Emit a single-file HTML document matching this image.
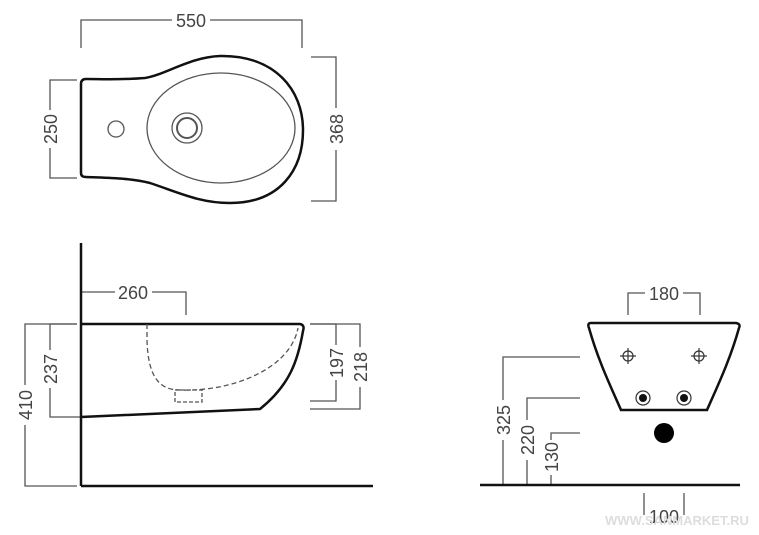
<!DOCTYPE html>
<html><head><meta charset="utf-8"><style>
html,body{margin:0;padding:0;background:#fff;}
svg{display:block;}
text{font-family:"Liberation Sans","DejaVu Sans",sans-serif;fill:#444;font-size:18px;}
</style></head><body>
<svg width="759" height="535" viewBox="0 0 759 535" xmlns="http://www.w3.org/2000/svg">
<g fill="none" stroke="#555" stroke-width="1.3">
<!-- top view dims -->
<polyline points="81,48 81,20 172,20"/><polyline points="210,20 302,20 302,48"/>
<polyline points="77,80 50,80 50,110"/><polyline points="50,148 50,178 77,178"/>
<polyline points="311,57 336,57 336,108"/><polyline points="336,150 336,201 311,201"/>
<!-- side dims -->
<polyline points="81,292 115,292"/><polyline points="152,292 186,292 186,315"/>
<polyline points="77,324 25,324 25,385"/><polyline points="25,425 25,486 77,486"/>
<polyline points="77,324 50,324 50,350"/><polyline points="50,388 50,417 81,417"/>
<polyline points="310,324 336,324 336,345"/><polyline points="336,380 336,401 310,401"/>
<polyline points="310,324 360,324 360,347"/><polyline points="360,387 360,409 310,409"/>
<!-- front dims -->
<polyline points="628,315 628,293 645,293"/><polyline points="683,293 700,293 700,315"/>
<polyline points="580,357 503,357 503,400"/><line x1="503" y1="440" x2="503" y2="485"/>
<polyline points="580,398 527,398 527,420"/><line x1="527" y1="460" x2="527" y2="485"/>
<polyline points="580,433 551,433 551,440"/><line x1="551" y1="475" x2="551" y2="485"/>
<line x1="644" y1="493" x2="644" y2="515"/><line x1="684" y1="493" x2="684" y2="515"/>
<!-- inner ellipse & holes -->
<ellipse cx="221" cy="128" rx="74" ry="55"/>
<circle cx="187" cy="128" r="15"/><circle cx="187" cy="128" r="10" stroke-width="2"/>
<circle cx="116" cy="129" r="8"/>
</g>
<g fill="none" stroke="#111" stroke-width="2.5">
<!-- top outline -->
<path d="M86,79 Q81,79 81,84 L81,173 Q81,177 86,177 C110,178 130,178 150,183 C180,193 200,203 230,203 C280,203 303,170 303,130 C303,90 275,55 220,56 C190,57 165,75 145,78 C120,80 100,79 86,79 Z"/>
<!-- side -->
<line x1="81" y1="243" x2="81" y2="486"/><line x1="81" y1="486" x2="373" y2="486"/>
<path d="M81,324 L300,324 Q305,325 303,331 C298,360 290,385 260,409 L81,417"/>
<!-- front -->
<path d="M591,323 L736,323 Q741,324 739,328 C730,360 718,385 707,410 L621,410 C610,385 598,360 589,328 Q587,323 591,323 Z"/>
<line x1="480" y1="485" x2="740" y2="485"/>
</g>
<path d="M147,324 L147,340 C148,378 160,390 180,390 C230,392 290,370 298,328" fill="none" stroke="#555" stroke-width="1.3" stroke-dasharray="5,3"/>
<rect x="175" y="390" width="27" height="12" fill="none" stroke="#555" stroke-width="1.3" stroke-dasharray="4,2"/>
<g stroke="#333" stroke-width="1.2" fill="none">
<circle cx="628" cy="356" r="5"/><line x1="620" y1="356" x2="636" y2="356"/><line x1="628" y1="348" x2="628" y2="364"/>
<circle cx="699" cy="356" r="5"/><line x1="691" y1="356" x2="707" y2="356"/><line x1="699" y1="348" x2="699" y2="364"/>
<circle cx="643" cy="398" r="7"/><circle cx="684" cy="398" r="7"/>
</g>
<circle cx="643" cy="398" r="4" fill="#111"/><circle cx="684" cy="398" r="4" fill="#111"/>
<circle cx="664" cy="433" r="10" fill="#000"/>
<text x="191" y="27" text-anchor="middle">550</text>
<text transform="translate(57,129) rotate(-90)" text-anchor="middle">250</text>
<text transform="translate(343,129) rotate(-90)" text-anchor="middle">368</text>
<text x="133" y="299" text-anchor="middle">260</text>
<text transform="translate(32,405) rotate(-90)" text-anchor="middle">410</text>
<text transform="translate(57,369) rotate(-90)" text-anchor="middle">237</text>
<text transform="translate(343,363) rotate(-90)" text-anchor="middle">197</text>
<text transform="translate(367,367) rotate(-90)" text-anchor="middle">218</text>
<text x="664" y="300" text-anchor="middle">180</text>
<text transform="translate(510,420) rotate(-90)" text-anchor="middle">325</text>
<text transform="translate(534,440) rotate(-90)" text-anchor="middle">220</text>
<text transform="translate(558,457) rotate(-90)" text-anchor="middle">130</text>
<text x="664" y="523" text-anchor="middle">100</text>
<text x="677" y="525" text-anchor="middle" style="font-size:13px;fill:#ddd;font-weight:bold">WWW.SANMARKET.RU</text>
</svg>
</body></html>
